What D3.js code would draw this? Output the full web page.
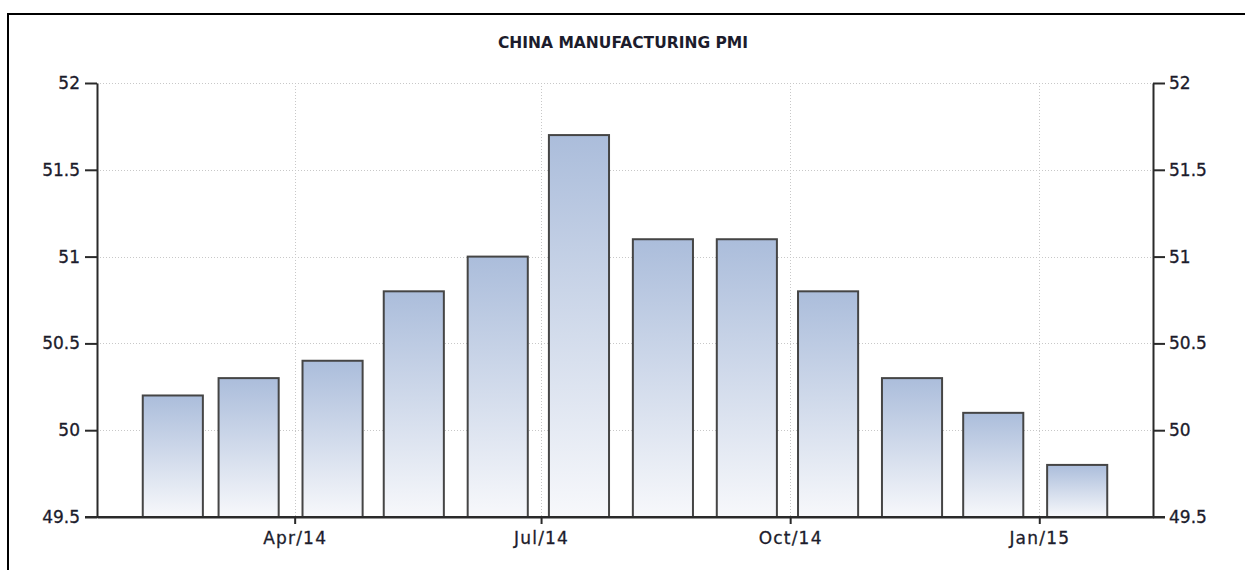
<!DOCTYPE html>
<html>
<head>
<meta charset="utf-8">
<script src="https://cdn.jsdelivr.net/npm/d3@7"></script>
<style>
  html, body { margin: 0; padding: 0; background: #fff; }
  svg { display: block; }
  text { font-family: "DejaVu Sans", Verdana, sans-serif; fill: #1c1c2c; }
</style>
</head>
<body>
<svg id="chart" width="1245" height="570"></svg>
<script>
// ---- data ----
const months = ["2014-02-15","2014-03-15","2014-04-15","2014-05-15","2014-06-15","2014-07-15",
                "2014-08-15","2014-09-15","2014-10-15","2014-11-15","2014-12-15","2015-01-15"];
const pmi = [50.2, 50.3, 50.4, 50.8, 51.0, 51.7, 51.1, 51.1, 50.8, 50.3, 50.1, 49.8];
const xTickDates = ["2014-04-01","2014-07-01","2014-10-01","2015-01-01"];
const xTickLabels = ["Apr/14","Jul/14","Oct/14","Jan/15"];
const yTicks = [49.5, 50, 50.5, 51, 51.5, 52];
const yTickLabels = ["49.5","50","50.5","51","51.5","52"];
const title = "CHINA MANUFACTURING PMI";

// ---- layout ----
const W = 1245, H = 570;
const plot = { left: 97, right: 1153, top: 83, bottom: 517 };
const parse = d3.utcParse("%Y-%m-%d");

const svg = d3.select("#chart");

// outer frame
svg.append("rect")
  .attr("x", 8).attr("y", 14).attr("width", W + 20).attr("height", H + 20)
  .attr("fill", "none").attr("stroke", "#000").attr("stroke-width", 2);

const x = d3.scaleUtc()
  .domain([parse("2014-01-18"), parse("2015-02-12")])
  .range([plot.left, plot.right]);
const y = d3.scaleLinear().domain([49.5, 52]).range([plot.bottom, plot.top]);

// gradient
const defs = svg.append("defs");
const grad = defs.append("linearGradient").attr("id", "barGrad")
  .attr("x1", 0).attr("y1", 0).attr("x2", 0).attr("y2", 1);
grad.append("stop").attr("offset", "0%").attr("stop-color", "#abbddb");
grad.append("stop").attr("offset", "100%").attr("stop-color", "#f7f8fb");

// gridlines
const grid = svg.append("g").attr("stroke", "#c8c8c8").attr("stroke-width", 1)
  .attr("stroke-dasharray", "1,2");
grid.selectAll("line.h").data(yTicks.filter(v => v > 49.5)).join("line")
  .attr("x1", plot.left).attr("x2", plot.right)
  .attr("y1", d => Math.round(y(d)) + 0.5).attr("y2", d => Math.round(y(d)) + 0.5);
grid.selectAll("line.v").data(xTickDates.map(parse)).join("line")
  .attr("x1", d => Math.round(x(d)) + 0.5).attr("x2", d => Math.round(x(d)) + 0.5)
  .attr("y1", plot.top).attr("y2", plot.bottom);

// bars
const monthPx = x(parse("2014-05-01")) - x(parse("2014-04-01"));
const barW = monthPx * 0.74;
svg.append("g").selectAll("rect").data(months.map((m, i) => ({ d: parse(m), v: pmi[i] })))
  .join("rect")
  .attr("x", d => x(d.d) - barW / 2)
  .attr("width", barW)
  .attr("y", d => y(d.v))
  .attr("height", d => y(49.5) - y(d.v))
  .attr("fill", "url(#barGrad)")
  .attr("stroke", "#454545").attr("stroke-width", 2);

// axes
const axisColor = "#2a2a2a";
const yLeft = d3.axisLeft(y).tickValues(yTicks).tickFormat((d, i) => yTickLabels[i])
  .tickSizeInner(12).tickSizeOuter(0).tickPadding(5);
const gL = svg.append("g").attr("transform", `translate(${plot.left},0)`).call(yLeft);
const yRight = d3.axisRight(y).tickValues(yTicks).tickFormat((d, i) => yTickLabels[i])
  .tickSizeInner(12).tickSizeOuter(0).tickPadding(4);
const gR = svg.append("g").attr("transform", `translate(${plot.right},0)`).call(yRight);
const xAxis = d3.axisBottom(x).tickValues(xTickDates.map(parse))
  .tickFormat((d, i) => xTickLabels[i]).tickSizeInner(7).tickSizeOuter(0).tickPadding(8);
const gX = svg.append("g").attr("transform", `translate(0,${plot.bottom})`).call(xAxis);

[gL, gR, gX].forEach(g => {
  g.select(".domain").attr("stroke", axisColor).attr("stroke-width", 2);
  g.selectAll(".tick line").attr("stroke", axisColor).attr("stroke-width", 2);
  g.selectAll(".tick text").attr("font-size", 17).attr("fill", "#1c1c2c")
    .attr("stroke", "#1c1c2c").attr("stroke-width", 0.3)
    .attr("font-family", "'DejaVu Sans', Verdana, sans-serif");
});
gX.selectAll(".tick text").attr("letter-spacing", 1.2);
// extend bottom axis line under the side ticks
svg.append("line")
  .attr("x1", plot.left - 12).attr("x2", plot.right + 12)
  .attr("y1", plot.bottom).attr("y2", plot.bottom)
  .attr("stroke", axisColor).attr("stroke-width", 2);

// title
svg.append("text")
  .attr("x", (plot.left + plot.right) / 2 - 2).attr("y", 48)
  .attr("text-anchor", "middle")
  .attr("font-size", 15.5).attr("font-weight", "bold")
  .text(title);
</script>
</body>
</html>
